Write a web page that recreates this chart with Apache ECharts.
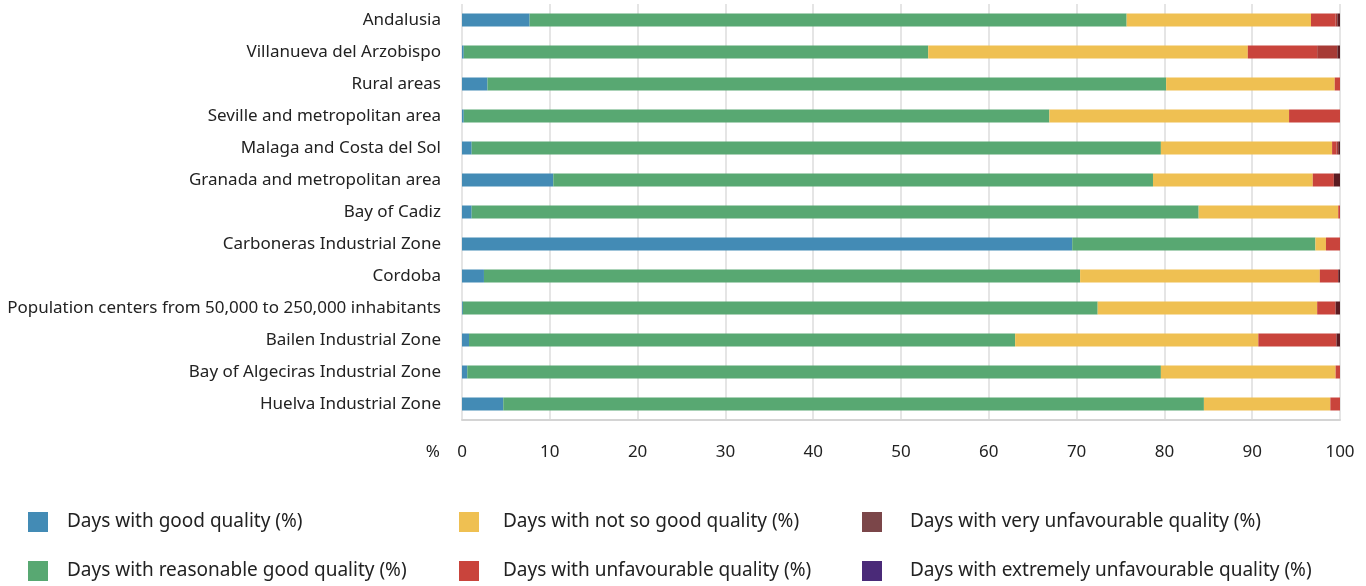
<!DOCTYPE html>
<html>
<head>
<meta charset="utf-8">
<style>
  html, body { margin: 0; padding: 0; background: #fff; }
  #chart { width: 1366px; height: 586px; }
</style>
<script src="https://cdn.jsdelivr.net/npm/echarts@6/dist/echarts.min.js"></script>
</head>
<body>
<div id="chart"></div>
<script>
// Air quality days by zone, share of days per quality level (%)
const zones = [
  'Andalusia',
  'Villanueva del Arzobispo',
  'Rural areas',
  'Seville and metropolitan area',
  'Malaga and Costa del Sol',
  'Granada and metropolitan area',
  'Bay of Cadiz',
  'Carboneras Industrial Zone',
  'Cordoba',
  'Population centers from 50,000 to 250,000 inhabitants',
  'Bailen Industrial Zone',
  'Bay of Algeciras Industrial Zone',
  'Huelva Industrial Zone'
];

const goodQuality          = [7.7, 0.2, 2.9, 0.2, 1.1, 10.4, 1.1, 69.5, 2.5, 0.1, 0.8, 0.6, 4.7];
const reasonableQuality    = [68.0, 52.9, 77.3, 66.7, 78.5, 68.3, 82.8, 27.7, 67.9, 72.3, 62.2, 79.0, 79.8];
const notSoGoodQuality     = [21.0, 36.4, 19.2, 27.3, 19.5, 18.2, 15.9, 1.2, 27.3, 25.0, 27.7, 19.9, 14.4];
const unfavourable         = [2.8, 7.9, 0.6, 5.8, 0.5, 2.4, 0.2, 1.6, 2.1, 2.1, 8.9, 0.5, 1.1];
const veryUnfavourable     = [0.2, 2.3, 0, 0, 0.2, 0, 0, 0, 0, 0, 0, 0, 0];
const extremelyUnfavourable = [0.3, 0.3, 0, 0, 0.2, 0.7, 0, 0, 0.2, 0.5, 0.4, 0, 0];

const xTicks = { min: 0, max: 100, step: 10 };

const seriesDefs = [
  { name: 'Days with good quality (%)', data: goodQuality, bar: '#438bb5', key: '#438bb5' },
  { name: 'Days with reasonable good quality (%)', data: reasonableQuality, bar: '#58a872', key: '#58a872' },
  { name: 'Days with not so good quality (%)', data: notSoGoodQuality, bar: '#efc052', key: '#efc052' },
  { name: 'Days with unfavourable quality (%)', data: unfavourable, bar: '#c9443c', key: '#c9443c' },
  { name: 'Days with very unfavourable quality (%)', data: veryUnfavourable, bar: '#a73b36', key: '#7b4649' },
  { name: 'Days with extremely unfavourable quality (%)', data: extremelyUnfavourable, bar: '#5a1b21', key: '#4a2a78' }
];

const FONT = '"Noto Sans", "Open Sans", sans-serif';
const TEXT = '#222';

// Legend laid out in three columns of two entries (column-major order)
const legendSlots = [
  { left: 28, top: 512, gap: 14 },
  { left: 28, top: 561, gap: 14 },
  { left: 459, top: 512, gap: 19 },
  { left: 459, top: 561, gap: 19 },
  { left: 862, top: 512, gap: 23 },
  { left: 862, top: 561, gap: 23 }
];

const legends = seriesDefs.map((s, i) => ({
  left: legendSlots[i].left,
  top: legendSlots[i].top,
  itemWidth: 20,
  itemHeight: 20,
  icon: 'rect',
  selectedMode: false,
  padding: 0,
  textStyle: { fontFamily: FONT, fontSize: 19, color: TEXT, padding: [2, 0, 0, legendSlots[i].gap] },
  data: [{ name: s.name, itemStyle: { color: s.key } }]
}));

const chart = echarts.init(document.getElementById('chart'), null, { renderer: 'canvas' });

chart.setOption({
  animation: false,
  backgroundColor: '#fff',
  grid: { left: 462, right: 26, top: 4, bottom: 166, containLabel: false },
  legend: legends,
  xAxis: {
    type: 'value',
    min: xTicks.min,
    max: xTicks.max,
    interval: xTicks.step,
    name: '%',
    nameLocation: 'start',
    nameGap: 22,
    nameTextStyle: { fontFamily: FONT, fontSize: 17, color: TEXT, verticalAlign: 'top', padding: [24, 0, 0, 0] },
    axisLine: { show: true, lineStyle: { color: '#d4d4d4', width: 2 } },
    axisTick: { show: false },
    axisLabel: { fontFamily: FONT, fontSize: 17, color: TEXT, margin: 24 },
    splitLine: { show: true, lineStyle: { color: '#dcdcdc', width: 1.5 } }
  },
  yAxis: {
    type: 'category',
    inverse: true,
    data: zones,
    axisLine: { show: false },
    axisTick: { show: false },
    axisLabel: { fontFamily: FONT, fontSize: 17, color: TEXT, margin: 21 },
    splitLine: { show: false }
  },
  series: seriesDefs.map(s => ({
    name: s.name,
    type: 'bar',
    stack: 'days',
    barWidth: 13,
    data: s.data,
    itemStyle: { color: s.bar },
    emphasis: { disabled: true }
  }))
});
</script>
</body>
</html>
